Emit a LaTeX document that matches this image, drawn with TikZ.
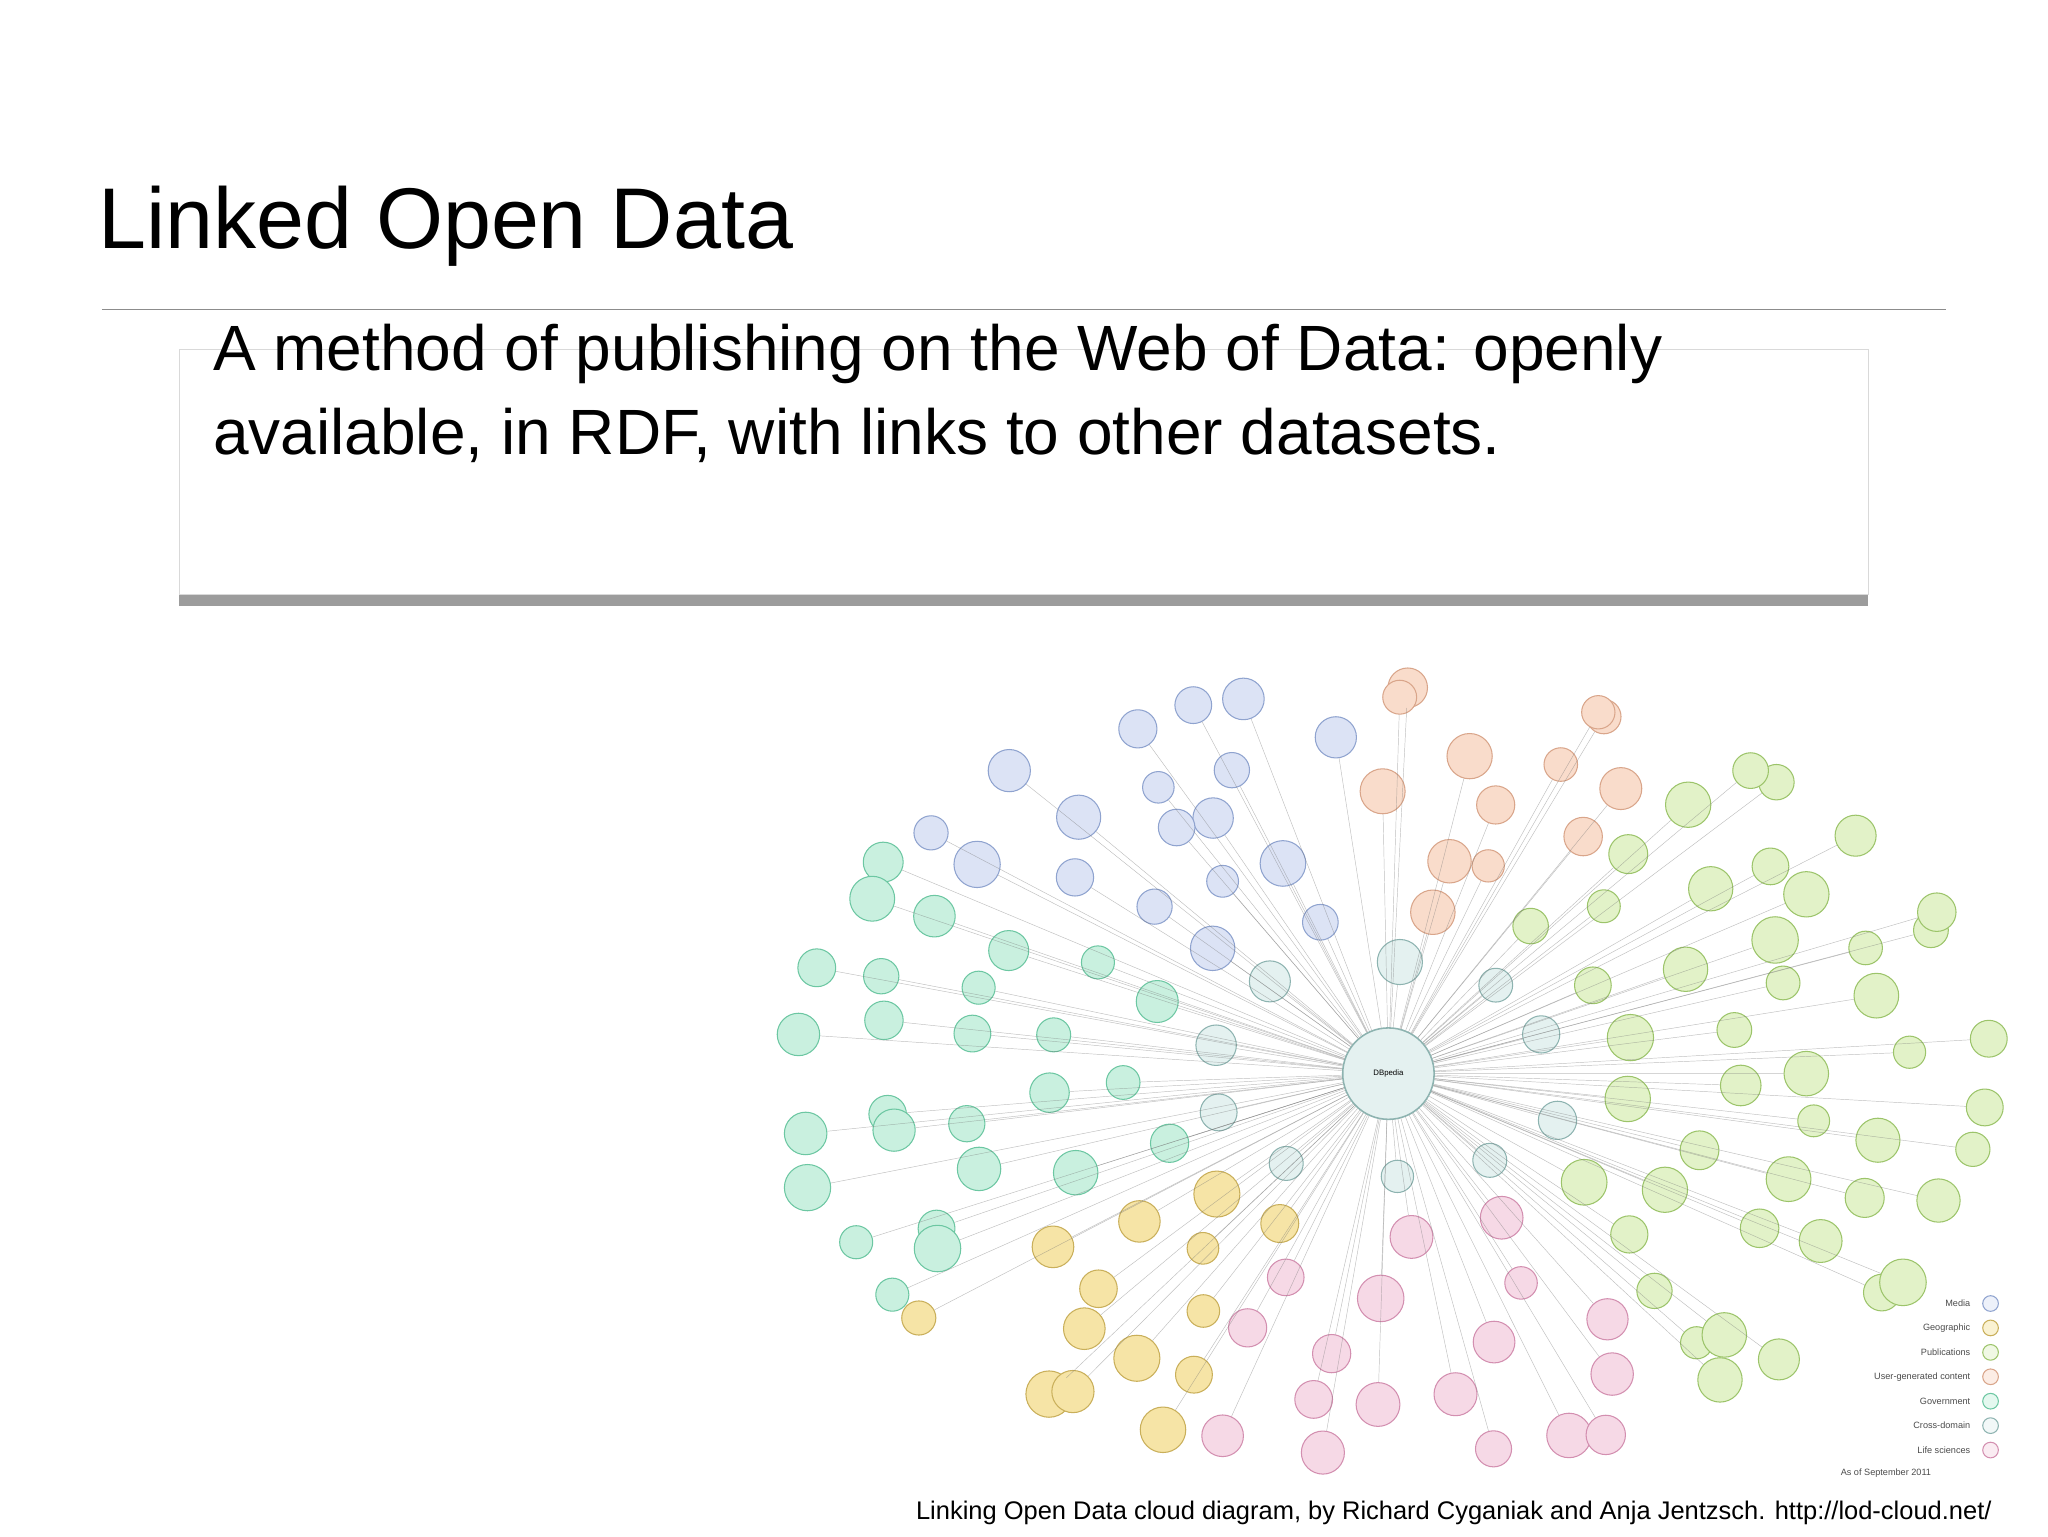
\documentclass[tikz,border=0pt]{standalone}
\usepackage{fontspec}
\setmainfont{Liberation Sans}
\usetikzlibrary{shadows}
\definecolor{c1}{HTML}{DCE3F5}\definecolor{d1}{HTML}{8FA3CF}
\definecolor{c2}{HTML}{F6E4A6}\definecolor{d2}{HTML}{C9AF5A}
\definecolor{c3}{HTML}{E2F2C8}\definecolor{d3}{HTML}{9CC46A}
\definecolor{c4}{HTML}{F9DCCB}\definecolor{d4}{HTML}{D9A58A}
\definecolor{c5}{HTML}{C9F0DF}\definecolor{d5}{HTML}{6CC7A2}
\definecolor{c6}{HTML}{E4F1F0}\definecolor{d6}{HTML}{8DB3B0}
\definecolor{c7}{HTML}{F6D9E6}\definecolor{d7}{HTML}{D38FB0}
\tikzset{bub/.style={circle,inner sep=0pt,line width=0.8pt},
 edge/.style={draw=black!55,line width=0.35pt,opacity=0.45},
 leg/.style={font=\fontsize{7}{8}\selectfont,text=black!70,anchor=east}}
\begin{document}
\begin{tikzpicture}[x=1pt,y=1pt]
\useasboundingbox (0,0) rectangle (1568,1176);
\fill[white] (0,0) rectangle (1568,1176);
\node[anchor=base west,inner sep=0,font=\fontsize{66}{70}\selectfont] (title) at (75,986) {Linked Open Data};
\draw[black!45,line width=1pt] (78,939) -- (1490,939);
\node[draw=black!15,fill=white,drop shadow={shadow xshift=0pt,shadow yshift=-9pt,opacity=0.55,fill=black!70},minimum width=1293,minimum height=188,anchor=north west,inner sep=0] (box) at (137,909) {};
\node[anchor=base west,inner sep=0,font=\fontsize{49}{64}\selectfont,align=left] (txt) at (163,828) {A method of publishing on the Web of Data: openly\\available, in RDF, with links to other datasets.};
% cloud
\pgfmathsetseed{7}
\foreach \r/\n/\f in {1/10/0.28,2/15/0.42,3/21/0.56,4/27/0.70,5/33/0.84,6/39/0.97}{
 \foreach \i in {1,...,\n}{
  \pgfmathsetmacro\a{mod(360*\i/\n+17*\r+rand*6,360)}
  \pgfmathsetmacro\ff{\f+rand*0.025}
  \pgfmathsetmacro\px{1063+470*\ff*cos(\a)}
  \pgfmathsetmacro\py{354+300*\ff*sin(\a)}
  \pgfmathsetmacro\sz{24+rnd*12}
  \pgfmathtruncatemacro\ci{\r<2 ? 6 : (\a<60 ? 3 : (\a<95 ? 4 : (\a<145 ? 1 : (\a<215 ? 5 : (\a<250 ? 2 : (\a<300 ? 7 : 3))))))}
  \coordinate (p\r-\i) at (\px,\py);
  \node[bub,fill=c\ci,draw=d\ci,minimum size=\sz] (b\r-\i) at (\px,\py) {};
 }}
\node[bub,fill=c6,draw=d6,minimum size=70,line width=1.2pt,font=\fontsize{6}{7}\selectfont] (dbp) at (1063,354) {DBpedia};
\foreach \r/\n in {1/10,2/15,3/21,4/27,5/33,6/39}{
 \foreach \i in {1,...,\n}{\draw[edge] (b\r-\i) -- (dbp);}}
% legend
\foreach \k/\t [count=\j] in {1/Media,2/Geographic,3/Publications,4/User-generated content,5/Government,6/Cross-domain,7/Life sciences}{
 \pgfmathsetmacro\ly{178-18.7*(\j-1)}
 \node[bub,fill=c\k!50,draw=d\k,minimum size=12] (l\j) at (1524,\ly) {};
 \node[leg] (lt\j) at (1512,\ly) {\t};}
\node[leg] (asof) at (1482,48) {As of September 2011};
\node[anchor=base east,inner sep=0,font=\fontsize{19.5}{22}\selectfont] (cap) at (1525,13) {Linking Open Data cloud diagram, by Richard Cyganiak and Anja Jentzsch. http://lod-cloud.net/};
\end{tikzpicture}
\end{document}
